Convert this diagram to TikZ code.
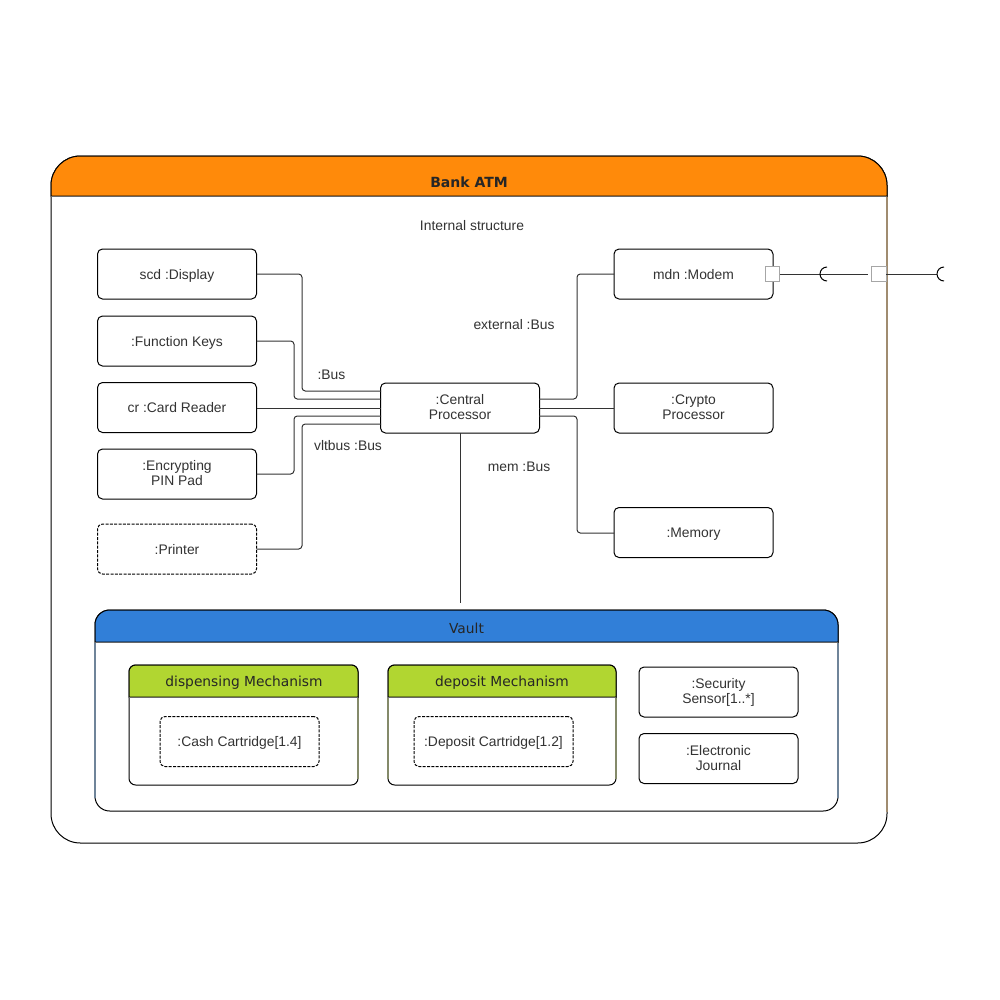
\documentclass[tikz,border=0pt]{standalone}
\usepackage{fontspec}
\setmainfont{Liberation Sans}
\newfontfamily\titlefont{DejaVu Sans}
\usetikzlibrary{positioning}
\definecolor{atmorange}{HTML}{FF8A0A}
\definecolor{vaultblue}{HTML}{317FD8}
\definecolor{mechgreen}{HTML}{B1D631}
\definecolor{labelgray}{HTML}{333333}
\definecolor{sideatm}{HTML}{A08C70}
\definecolor{sidevault}{HTML}{6F8499}
\definecolor{sidemech}{HTML}{848A6A}
\newcommand{\partstrut}{\rule[-1.9pt]{0pt}{12pt}}
\newcommand{\twolinestrut}{\rule[-0.8pt]{0pt}{12pt}}
\tikzstyle{partbox} = [rectangle, draw, align=center, text=labelgray, font=\fontsize{10.4}{11.25}\selectfont, rounded corners=3.75pt, minimum width=119.25pt, minimum height=37.5pt, inner sep=0pt, outer sep=0pt, line width=0.75pt]
\tikzstyle{part} = [partbox, execute at begin node=\partstrut, execute at end node=\partstrut]
\tikzstyle{twoline} = [partbox, execute at begin node=\twolinestrut, execute at end node=\twolinestrut]
\tikzstyle{optpart} = [part, dash pattern=on 2.25pt off 1pt]
\tikzstyle{wire} = [draw, line width=0.75pt, rounded corners=2.5pt, color=black!80]
\tikzstyle{buslabel} = [text=labelgray, font=\fontsize{10.4}{11.25}\selectfont, inner sep=0pt]
\tikzstyle{port} = [rectangle, draw=black!35, fill=white, line width=0.75pt, minimum size=11pt, inner sep=0pt, outer sep=0pt]
\tikzstyle{frame} = [rectangle, draw, fill=white, inner sep=0pt, outer sep=0pt, line width=0.75pt]
\tikzstyle{headtext} = [text=black!85, font=\titlefont\fontsize{10.35}{12}\selectfont, inner sep=0pt]
\tikzstyle{sideline} = [line width=1pt]

\begin{document}
\begin{tikzpicture}[x=0.75pt, y=-0.75pt]
        \fill[white] (0, 0) rectangle (1000, 1000);
        \useasboundingbox (0, 0) rectangle (1000, 1000);

        \node[frame, rounded corners=22pt, minimum width=627pt, minimum height=515.25pt] at (469, 499.5) (Bank_ATM) {};
        \draw[line width=0.75pt, fill=atmorange] (51, 196) [rounded corners=22pt] -- (51, 156) -- (887, 156) [sharp corners] -- (887, 196) -- cycle;
        \draw[line width=0.75pt, color=black!60] (51, 196) -- (887, 196);
        \draw[sideline, color=sideatm] (887, 197) -- (887, 812);
        \node[headtext, font=\titlefont\bfseries\fontsize{10.5}{12}\selectfont] at (469, 182.5) (Bank_ATM_title) {Bank ATM};
        \node[buslabel] at (472, 225.5) (internal_structure) {Internal structure};

        \node[part] at (177, 274) (scd_Display) {scd :Display};
        \node[part] at (177, 341) (Function_Keys) {:Function Keys};
        \node[part] at (177, 407.5) (Card_Reader) {cr :Card Reader};
        \node[twoline] at (177, 474) (PIN_Pad) {:Encrypting\\PIN Pad};
        \node[optpart] at (177, 549) (Printer) {:Printer};
        \node[twoline] at (460, 408) (Central_Processor) {:Central\\Processor};
        \node[part] at (693.5, 274) (mdn_Modem) {mdn :Modem};
        \node[twoline] at (693.5, 408) (Crypto_Processor) {:Crypto\\Processor};
        \node[part] at (693.5, 532.5) (Memory) {:Memory};

        \node[buslabel] at (331.5, 374.5) (bus_label) {:Bus};
        \node[buslabel] at (348, 445.5) (vltbus_label) {vltbus :Bus};
        \node[buslabel] at (519, 466.5) (mem_label) {mem :Bus};
        \node[buslabel] at (514, 324.5) (external_label) {external :Bus};

        \coordinate (cpu_w1) at (381, 391);
        \coordinate (cpu_w2) at (381, 399);
        \coordinate (cpu_w3) at (381, 408);
        \coordinate (cpu_w4) at (381, 416);
        \coordinate (cpu_w5) at (381, 424);
        \coordinate (cpu_e1) at (539, 399);
        \coordinate (cpu_e2) at (539, 408);
        \coordinate (cpu_e3) at (539, 416);
        \coordinate (vault_top) at (460, 603);

        \draw[wire] (scd_Display.east) -- (302, 274) -- (302, 391) -- (cpu_w1);
        \draw[wire] (Function_Keys.east) -- (294, 341) -- (294, 399) -- (cpu_w2);
        \draw[wire] (Card_Reader.east |- cpu_w3) -- (cpu_w3);
        \draw[wire] (PIN_Pad.east) -- (294, 474) -- (294, 416) -- (cpu_w4);
        \draw[wire] (Printer.east) -- (302, 549) -- (302, 424) -- (cpu_w5);
        \draw[wire] (cpu_e1) -- (577, 399) -- (577, 274) -- (mdn_Modem.west);
        \draw[wire] (cpu_e2) -- (Crypto_Processor.west);
        \draw[wire] (cpu_e3) -- (577, 416) -- (577, 533) -- (Memory.west |- 577, 533);
        \draw[wire] (Central_Processor.south) -- (vault_top);

        \coordinate (modem_line_end) at (868, 274);
        \coordinate (atm_line_end) at (937, 274);
        \node[port] at (772.5, 274) (modem_port) {};
        \node[port] at (879, 274) (atm_port) {};
        \draw[wire] (modem_port) -- (modem_line_end);
        \draw[wire] (atm_port) -- (atm_line_end);
        \draw[line width=0.75pt] (827, 267) arc[start angle=-90, end angle=-270, radius=7];
        \draw[line width=0.75pt] (944, 267) arc[start angle=-90, end angle=-270, radius=7];

        \node[frame, rounded corners=11pt, minimum width=557.25pt, minimum height=150.75pt] at (466.5, 710.5) (Vault) {};
        \draw[line width=0.75pt, fill=vaultblue] (95, 642) [rounded corners=11pt] -- (95, 610) -- (838, 610) [sharp corners] -- (838, 642) -- cycle;
        \draw[line width=0.75pt, color=black!60] (95, 642) -- (838, 642);
        \draw[sideline, color=sidevault] (95, 643) -- (95, 798);
        \draw[sideline, color=sidevault] (838, 643) -- (838, 798);
        \node[headtext] at (466.5, 628.5) (Vault_title) {Vault};

        \node[frame, rounded corners=5pt, minimum width=171.75pt, minimum height=90pt] at (243.5, 725) (dispensing_Mechanism) {};
        \draw[line width=0.75pt, fill=mechgreen] (129, 697) [rounded corners=5pt] -- (129, 665) -- (358, 665) [sharp corners] -- (358, 697) -- cycle;
        \draw[line width=0.75pt, color=black!60] (129, 697) -- (358, 697);
        \draw[sideline, color=sidemech] (358, 698) -- (358, 779);
        \node[headtext] at (244, 682.5) (dispensing_title) {dispensing Mechanism};
        \node[optpart] at (239.5, 741.5) (Cash_Cartridge) {:Cash Cartridge[1.4]};

        \node[frame, rounded corners=5pt, minimum width=171pt, minimum height=90pt] at (502, 725) (deposit_Mechanism) {};
        \draw[line width=0.75pt, fill=mechgreen] (388, 697) [rounded corners=5pt] -- (388, 665) -- (616, 665) [sharp corners] -- (616, 697) -- cycle;
        \draw[line width=0.75pt, color=black!60] (388, 697) -- (616, 697);
        \draw[sideline, color=sidemech] (388, 698) -- (388, 779);
        \draw[sideline, color=sidemech] (616, 698) -- (616, 779);
        \node[headtext] at (502, 682.5) (deposit_title) {deposit Mechanism};
        \node[optpart] at (493.5, 741.5) (Deposit_Cartridge) {:Deposit Cartridge[1.2]};

        \node[twoline] at (718.5, 692) (Security_Sensor) {:Security\\Sensor[1..*]};
        \node[twoline] at (718.5, 758.5) (Electronic_Journal) {:Electronic\\Journal};
    \end{tikzpicture}
\end{document}
